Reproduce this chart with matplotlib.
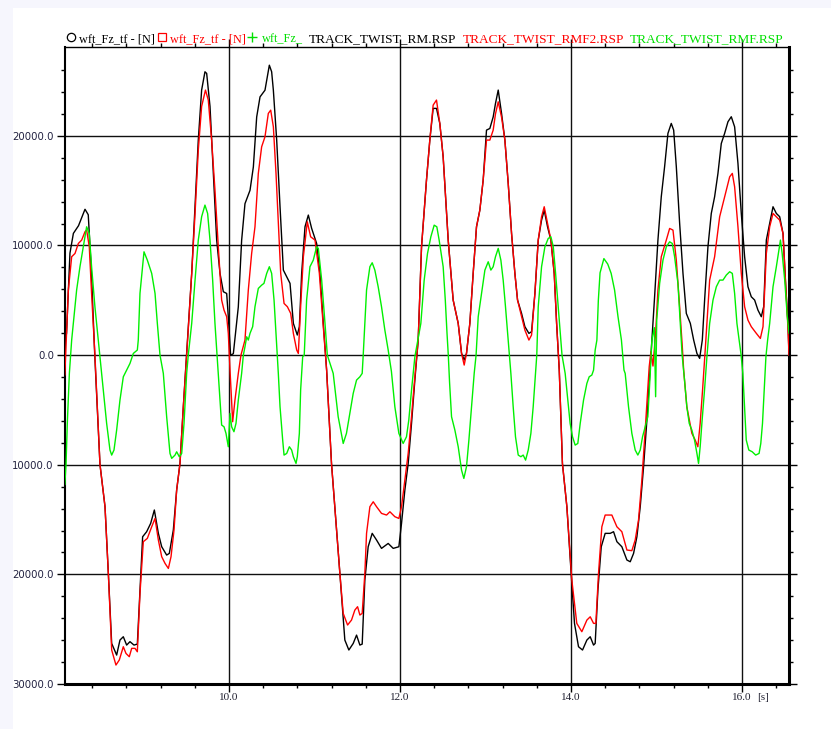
import matplotlib
matplotlib.use("Agg")
import matplotlib.pyplot as plt
from matplotlib.patches import Rectangle
from matplotlib.lines import Line2D

# wft_Fz_tf - TRACK_TWIST_RM.RSP (black)
t_rm = [8.080, 8.100, 8.140, 8.180, 8.240, 8.280, 8.316, 8.354, 8.390, 8.430,
        8.491, 8.550, 8.589, 8.628, 8.686, 8.725, 8.764, 8.803, 8.842, 8.889,
        8.928, 8.959, 8.990, 9.037, 9.084, 9.127, 9.174, 9.213, 9.271, 9.302,
        9.349, 9.388, 9.427, 9.466, 9.505, 9.564, 9.603, 9.641, 9.680, 9.719,
        9.739, 9.778, 9.817, 9.856, 9.895, 9.934, 9.973, 9.992, 10.019, 10.051,
        10.109, 10.148, 10.187, 10.246, 10.285, 10.324, 10.363, 10.421, 10.472, 10.499,
        10.519, 10.558, 10.597, 10.636, 10.714, 10.753, 10.799, 10.823, 10.850, 10.889,
        10.928, 10.967, 11.025, 11.064, 11.103, 11.142, 11.199, 11.297, 11.355, 11.402,
        11.453, 11.492, 11.531, 11.558, 11.589, 11.628, 11.675, 11.726, 11.784, 11.862,
        11.921, 11.987, 12.018, 12.057, 12.096, 12.135, 12.174, 12.213, 12.252, 12.310,
        12.349, 12.388, 12.427, 12.466, 12.505, 12.564, 12.622, 12.681, 12.720, 12.751,
        12.778, 12.817, 12.856, 12.895, 12.934, 12.973, 13.012, 13.051, 13.090, 13.117,
        13.149, 13.188, 13.227, 13.266, 13.305, 13.344, 13.375, 13.422, 13.461, 13.508,
        13.539, 13.578, 13.617, 13.656, 13.687, 13.726, 13.765, 13.804, 13.832, 13.863,
        13.900, 13.952, 14.002, 14.041, 14.088, 14.135, 14.186, 14.225, 14.264, 14.283,
        14.315, 14.354, 14.400, 14.459, 14.498, 14.537, 14.595, 14.654, 14.693, 14.732,
        14.771, 14.810, 14.849, 14.888, 14.927, 14.946, 14.978, 15.017, 15.056, 15.095,
        15.134, 15.173, 15.201, 15.232, 15.271, 15.310, 15.349, 15.396, 15.435, 15.473,
        15.505, 15.536, 15.563, 15.602, 15.641, 15.680, 15.719, 15.758, 15.797, 15.836,
        15.875, 15.914, 15.953, 15.992, 16.031, 16.070, 16.109, 16.148, 16.187, 16.226,
        16.254, 16.285, 16.324, 16.363, 16.402, 16.441, 16.480, 16.512, 16.539, 16.550]
fz_rm = [1000, 2000, 9300, 11100, 11800, 12600, 13300, 12800, 7700, 0,
         -9970, -13830, -19910, -26300, -27360, -25990, -25690, -26450, -26140, -26450,
         -26360, -21430, -16570, -16110, -15350, -14130, -16260, -17480, -18240, -18090,
         -15960, -12310, -9880, -4710, 200, 7450, 13530, 19610, 24170, 25840,
         25690, 22680, 16600, 10490, 7450, 5780, 5620, 3500, -20, 130,
         4390, 10470, 13810, 15030, 17160, 21720, 23550, 24160, 26440, 25840,
         24160, 19600, 13530, 7750, 6540, 2890, 1830, 2590, 7450, 11700,
         12770, 11550, 10180, 7450, 2890, -1370, -9880, -19910, -25990, -26900,
         -26300, -25540, -26450, -26360, -20520, -17480, -16260, -16870, -17630, -17180,
         -17630, -17480, -15350, -12310, -9880, -6230, -2280, 1370, 9880, 15960,
         19610, 22500, 22500, 21120, 18080, 10490, 5020, 2890, 160, -450,
         160, 2890, 7450, 11700, 13220, 15960, 20520, 20670, 21720, 22950,
         24170, 22040, 19610, 15650, 11090, 7450, 5020, 3800, 2590, 1980,
         2130, 5620, 10490, 12310, 13220, 11700, 10490, 7450, 2890, -1370,
         -9880, -13830, -19910, -24470, -26600, -26900, -25990, -25690, -26450, -26300,
         -21430, -17480, -16260, -16260, -16110, -17020, -17480, -18690, -18850, -18090,
         -16570, -13830, -10180, -5930, -1060, 1370, 5320, 10490, 14440, 17180,
         20220, 21130, 20520, 17180, 12010, 7450, 3800, 2890, 1370, 150,
         -300, 1370, 5020, 9880, 12920, 14440, 16570, 19300, 20220, 21280,
         21740, 20820, 17480, 12920, 8970, 6230, 5320, 5020, 4100, 3500,
         4410, 10490, 12010, 13530, 12920, 12620, 11090, 6230, 2890, 0]

# wft_Fz_tf - TRACK_TWIST_RMF2.RSP (red)
t_rmf2 = [8.080, 8.121, 8.160, 8.199, 8.238, 8.277, 8.316, 8.335, 8.366, 8.393,
          8.432, 8.491, 8.550, 8.589, 8.628, 8.678, 8.717, 8.764, 8.795, 8.834,
          8.862, 8.901, 8.928, 8.959, 8.998, 9.045, 9.096, 9.135, 9.174, 9.213,
          9.252, 9.291, 9.322, 9.357, 9.388, 9.427, 9.466, 9.505, 9.564, 9.603,
          9.641, 9.680, 9.725, 9.758, 9.797, 9.836, 9.875, 9.914, 9.942, 9.973,
          9.992, 10.012, 10.043, 10.070, 10.109, 10.140, 10.187, 10.226, 10.265, 10.304,
          10.343, 10.382, 10.421, 10.460, 10.488, 10.519, 10.550, 10.577, 10.605, 10.644,
          10.683, 10.722, 10.753, 10.792, 10.811, 10.838, 10.870, 10.916, 10.955, 11.006,
          11.057, 11.103, 11.142, 11.199, 11.297, 11.336, 11.387, 11.433, 11.472, 11.504,
          11.531, 11.558, 11.589, 11.609, 11.648, 11.687, 11.726, 11.784, 11.843, 11.882,
          11.940, 11.987, 12.018, 12.057, 12.096, 12.135, 12.174, 12.213, 12.252, 12.310,
          12.349, 12.388, 12.427, 12.466, 12.505, 12.564, 12.622, 12.681, 12.720, 12.751,
          12.778, 12.817, 12.856, 12.895, 12.934, 12.973, 13.012, 13.051, 13.090, 13.117,
          13.149, 13.188, 13.227, 13.266, 13.305, 13.344, 13.375, 13.422, 13.461, 13.508,
          13.539, 13.578, 13.617, 13.656, 13.687, 13.726, 13.765, 13.804, 13.832, 13.863,
          13.900, 13.952, 14.010, 14.068, 14.127, 14.186, 14.225, 14.264, 14.291, 14.322,
          14.361, 14.400, 14.478, 14.537, 14.595, 14.654, 14.712, 14.751, 14.790, 14.829,
          14.868, 14.915, 14.935, 14.959, 14.990, 15.017, 15.056, 15.115, 15.154, 15.193,
          15.232, 15.271, 15.302, 15.318, 15.355, 15.414, 15.453, 15.484, 15.511, 15.539,
          15.570, 15.622, 15.680, 15.739, 15.778, 15.817, 15.856, 15.887, 15.914, 15.953,
          15.992, 16.031, 16.070, 16.109, 16.168, 16.215, 16.246, 16.285, 16.324, 16.363,
          16.402, 16.441, 16.480, 16.512, 16.539, 16.550]
fz_rmf2 = [-1800, 5930, 8970, 9270, 10180, 10490, 11250, 11400, 9880, 5620,
           0, -9970, -13830, -19910, -26900, -28270, -27810, -26600, -27210, -27510,
           -26750, -26750, -27060, -21740, -17020, -16720, -15660, -14900, -16870, -18390,
           -19000, -19460, -18390, -15960, -12310, -9880, -4710, 0, 7450, 12920,
           18700, 22680, 24170, 23260, 19610, 15050, 9880, 5020, 4100, 3500,
           1980, -1370, -6080, -4100, -1670, 0, 1370, 5930, 9270, 11700,
           16570, 19000, 19910, 22040, 22340, 20820, 16570, 12010, 7450, 4710,
           4410, 3800, 1980, 460, 150, 4410, 8970, 12160, 10790, 10490,
           7450, 2590, -1370, -9880, -19910, -23560, -24620, -24170, -23260, -22950,
           -23710, -23560, -19910, -16260, -13830, -13380, -13830, -14440, -14590, -14290,
           -14740, -14900, -13830, -11400, -8970, -5620, -1980, 1370, 9880, 15960,
           19610, 22800, 23260, 21120, 18080, 10490, 5020, 2890, 160, -910,
           160, 2890, 7450, 11700, 13220, 15960, 19610, 19610, 20520, 22000,
           23100, 21700, 19610, 15650, 11090, 7450, 5020, 3500, 2280, 1370,
           1830, 5620, 10490, 12620, 13530, 12000, 10490, 7450, 2890, -1370,
           -9880, -13830, -20520, -24470, -25230, -24170, -23870, -24470, -24470, -19910,
           -15660, -14590, -14590, -15660, -16110, -17780, -17840, -16870, -15050, -11400,
           -6840, -1060, 300, -1000, 1980, 5930, 8970, 10490, 11550, 11400,
           8660, 4410, 760, -1370, -4710, -7140, -7750, -8360, -6230, -3190,
           460, 6840, 8970, 12620, 13830, 15050, 16260, 16570, 15350, 11700,
           7450, 4410, 3190, 2590, 1980, 1520, 2590, 9270, 11700, 12920,
           12620, 12310, 11090, 6230, 2280, 0]

# wft_Fz_ - TRACK_TWIST_RMF.RSP (green)
t_rmf = [8.080, 8.094, 8.109, 8.133, 8.160, 8.179, 8.218, 8.257, 8.296, 8.335,
         8.366, 8.393, 8.432, 8.471, 8.491, 8.530, 8.569, 8.608, 8.628, 8.655,
         8.686, 8.725, 8.764, 8.803, 8.842, 8.881, 8.928, 8.939, 8.959, 9.006,
         9.045, 9.096, 9.135, 9.162, 9.193, 9.232, 9.271, 9.310, 9.330, 9.369,
         9.388, 9.419, 9.447, 9.474, 9.505, 9.524, 9.564, 9.603, 9.641, 9.680,
         9.719, 9.750, 9.778, 9.809, 9.836, 9.860, 9.887, 9.914, 9.942, 9.965,
         9.992, 10.012, 10.031, 10.058, 10.082, 10.109, 10.148, 10.168, 10.187, 10.207,
         10.226, 10.246, 10.277, 10.304, 10.343, 10.382, 10.409, 10.441, 10.472, 10.499,
         10.527, 10.550, 10.577, 10.597, 10.628, 10.644, 10.675, 10.706, 10.733, 10.753,
         10.784, 10.799, 10.823, 10.838, 10.862, 10.880, 10.908, 10.947, 10.986, 11.025,
         11.045, 11.084, 11.123, 11.150, 11.219, 11.277, 11.336, 11.374, 11.413, 11.453,
         11.492, 11.531, 11.558, 11.570, 11.609, 11.648, 11.675, 11.706, 11.745, 11.784,
         11.823, 11.862, 11.900, 11.940, 11.987, 12.037, 12.076, 12.103, 12.135, 12.174,
         12.200, 12.244, 12.283, 12.322, 12.361, 12.400, 12.431, 12.458, 12.505, 12.530,
         12.550, 12.565, 12.580, 12.603, 12.642, 12.681, 12.720, 12.747, 12.778, 12.806,
         12.837, 12.868, 12.890, 12.915, 12.954, 12.993, 13.032, 13.063, 13.090, 13.117,
         13.149, 13.180, 13.207, 13.234, 13.266, 13.297, 13.324, 13.351, 13.383, 13.414,
         13.441, 13.469, 13.500, 13.531, 13.558, 13.585, 13.600, 13.617, 13.656, 13.695,
         13.734, 13.765, 13.793, 13.820, 13.851, 13.882, 13.895, 13.932, 13.963, 13.990,
         14.018, 14.049, 14.080, 14.108, 14.147, 14.186, 14.213, 14.244, 14.264, 14.283,
         14.303, 14.320, 14.340, 14.385, 14.430, 14.470, 14.510, 14.550, 14.590, 14.620,
         14.634, 14.673, 14.712, 14.751, 14.782, 14.810, 14.837, 14.868, 14.899, 14.927,
         14.946, 14.975, 14.990, 15.003, 15.037, 15.076, 15.115, 15.154, 15.185, 15.212,
         15.251, 15.279, 15.300, 15.328, 15.355, 15.383, 15.414, 15.445, 15.473, 15.492,
         15.511, 15.531, 15.562, 15.590, 15.622, 15.661, 15.700, 15.739, 15.778, 15.817,
         15.856, 15.887, 15.914, 15.941, 15.990, 16.010, 16.030, 16.050, 16.080, 16.120,
         16.160, 16.200, 16.220, 16.240, 16.260, 16.280, 16.300, 16.324, 16.363, 16.402,
         16.450, 16.470, 16.500, 16.530, 16.550]
fz_rmf = [-11800, -9970, -6230, -1670, 1370, 2890, 5930, 8060, 9880, 11700,
          11090, 8060, 4410, 1370, -150, -3190, -6230, -8660, -9120, -8660,
          -6840, -4100, -1980, -1370, -760, 150, 460, 1370, 5630, 9420,
          8660, 7450, 5630, 2890, 0, -1670, -5620, -8970, -9420, -9120,
          -8820, -9270, -8970, -6230, -1670, 0, 2890, 6840, 10490, 12620,
          13680, 12920, 10490, 6840, 2890, 0, -3190, -6380, -6540, -7140,
          -8360, -5320, -6540, -6990, -6230, -4100, -1670, 0, 760, 1670,
          1370, 1980, 2590, 4410, 6080, 6380, 6540, 7450, 8060, 7450,
          5020, 1980, -1670, -4710, -7750, -9120, -8970, -8360, -8660, -9270,
          -9880, -9270, -7140, -3190, -150, 0, 5020, 8060, 8660, 9880,
          9730, 6840, 2890, 0, -1670, -5620, -8060, -7140, -5320, -3490,
          -2280, -1980, -1670, 0, 5930, 8060, 8420, 7750, 6230, 4410,
          2280, 460, -1500, -4710, -7140, -8060, -7450, -5930, -3190, -150,
          1000, 2890, 6840, 9270, 10790, 11850, 11700, 10490, 8060, 5020,
          2000, 0, -2500, -5620, -6840, -8360, -10490, -11250, -10180, -7750,
          -4710, -1670, 0, 3500, 5620, 7750, 8510, 7750, 8060, 8970,
          9730, 8660, 6840, 4410, 1370, -1670, -4710, -7450, -9120, -9270,
          -9120, -9580, -8660, -7140, -4710, -1670, 0, 4410, 8060, 9880,
          10640, 10790, 9880, 7450, 4410, 1370, 0, -1670, -4100, -6230,
          -7450, -8210, -8060, -6230, -4100, -2580, -1980, -1820, -1370, 460,
          1370, 5000, 7500, 8800, 8300, 7450, 5930, 3500, 1370, -1370,
          -1670, -4710, -7140, -8660, -9120, -8660, -7450, -6540, -5620, -1670,
          1370, 2500, -3800, 3200, 6540, 8660, 9880, 10330, 10180, 8970,
          6540, 2890, 0, -2280, -4710, -6230, -6840, -7750, -8970, -9880,
          -8360, -6230, -3190, -150, 2890, 5020, 6230, 6840, 6840, 7300,
          7600, 7450, 5630, 2890, 0, -1670, -4710, -7750, -8660, -8820,
          -9120, -8970, -8060, -6230, -3190, -150, 1370, 2890, 6230, 8060,
          10490, 9270, 6840, 3500, 2000]

ytick_vals = [-30000, -20000, -10000, 0, 10000, 20000]
ytick_labels = ['30000.0', '20000.0', '10000.0', '0.0', '10000.0', '20000.0']
xtick_vals = [10, 12, 14, 16]
xtick_labels = ['10.0', '12.0', '14.0', '16.0']

W, H = 831, 729
fig = plt.figure(figsize=(W / 100, H / 100), dpi=100, facecolor='#f6f6fd')
# white drawing panel behind everything
fig.patches.append(Rectangle((13 / W, 0), 1, 1 - 8 / H, transform=fig.transFigure,
                             facecolor='white', edgecolor='none', zorder=-10))

ax = fig.add_axes([65 / W, 1 - 684 / H, (789 - 65) / W, (684 - 47) / H])
ax.set_facecolor('white')

ax.plot(t_rm, fz_rm, color='black', lw=1.0, zorder=3)
ax.plot(t_rmf2, fz_rmf2, color='#ff0000', lw=1.0, zorder=4)
ax.plot(t_rmf, fz_rmf, color='#00f000', lw=1.0, zorder=5)

ax.set_xlim(8.082, 16.55)
ax.set_ylim(-30000, 28100)

ax.set_xticks(xtick_vals)
ax.set_xticklabels(xtick_labels, fontfamily='Liberation Serif', fontsize=8, color='#202030')
ax.set_yticks(ytick_vals)
ax.set_yticklabels(ytick_labels, fontfamily='DejaVu Sans', fontsize=7.3, color='#202040')
ax.set_xticks([8.4 + 0.4 * i for i in range(21)], minor=True)
ax.set_yticks([-28000 + 2000 * i for i in range(28)], minor=True)

ax.tick_params(which='both', direction='out', top=True, right=True, width=1.0, color='black')
ax.tick_params(which='major', length=6, pad=2)
ax.tick_params(which='minor', length=3)
ax.tick_params(axis='x', which='major', pad=0.5)

ax.grid(True, which='major', color='#101010', lw=1.0, zorder=1)
ax.set_axisbelow(True)

for side, w in (('left', 1.5), ('bottom', 2.2), ('right', 2.2), ('top', 1.0)):
    ax.spines[side].set_linewidth(w)
    ax.spines[side].set_color('black')

ax.annotate('[s]', xy=(16.0, 0), xycoords=ax.get_xaxis_transform(),
            xytext=(15, -14), textcoords='offset pixels', ha='left', va='center',
            fontfamily='Liberation Serif', fontsize=8, color='#202030')

# legend line above the plot
ly = 1 - 42 / H
mid = 1 - 37 / H
fig.add_artist(Line2D([71 / W], [mid], marker='o', markersize=6, markerfacecolor='none',
                      markeredgecolor='black', markeredgewidth=0.9, transform=fig.transFigure))
fig.add_artist(Line2D([162 / W], [mid], marker='s', markersize=6, markerfacecolor='none',
                      markeredgecolor='#ff0000', markeredgewidth=0.9, transform=fig.transFigure))
fig.add_artist(Line2D([252 / W], [mid], marker='+', markersize=7,
                      markeredgecolor='#00e000', markeredgewidth=1.0, transform=fig.transFigure))

legend_items = [
    (79, 'wft_Fz_tf - [N]', 'black', 8.8),
    (170, 'wft_Fz_tf - [N]', '#ff0000', 8.8),
    (262, 'wft_Fz_', '#00e000', 8.8),
    (309, 'TRACK_TWIST_RM.RSP', 'black', 9.6),
    (463, 'TRACK_TWIST_RMF2.RSP', '#ff0000', 9.6),
    (630, 'TRACK_TWIST_RMF.RSP', '#00e000', 9.6),
]
for x, txt, col, fs in legend_items:
    fig.text(x / W, ly, txt, color=col, fontfamily='Liberation Serif', fontsize=fs,
             ha='left', va='baseline')

fig.savefig('out.png', dpi=100, facecolor=fig.get_facecolor())
